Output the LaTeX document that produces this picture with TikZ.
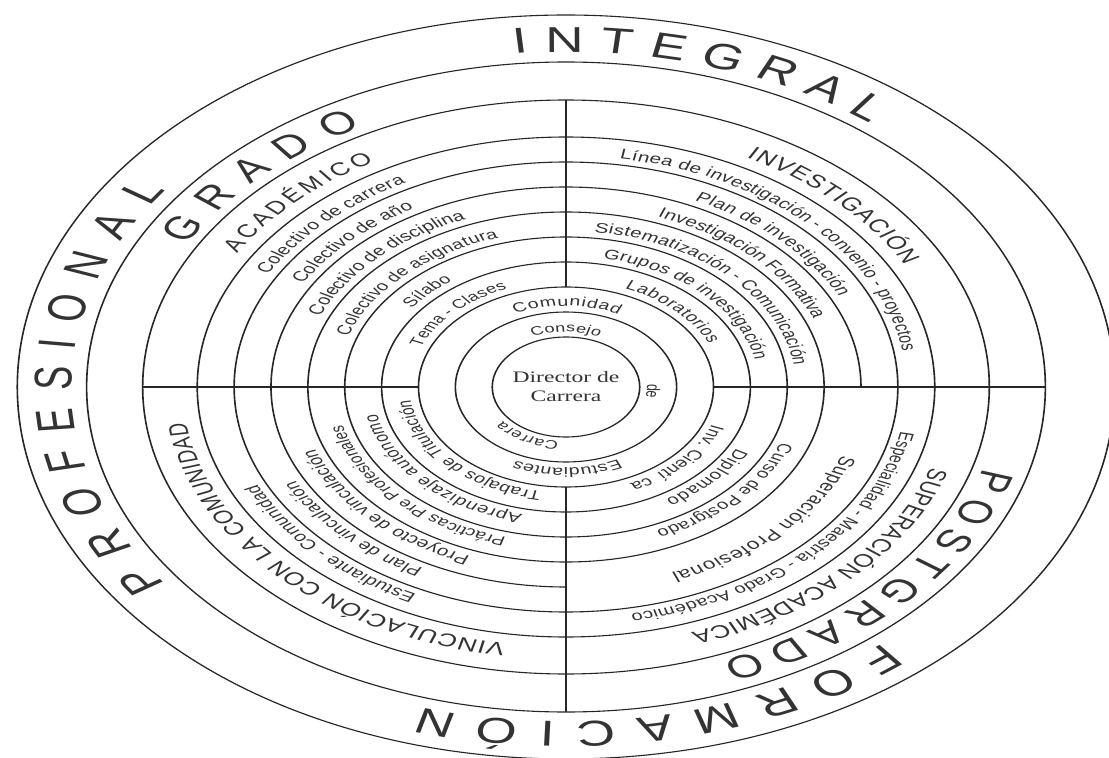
\documentclass[tikz,border=0pt]{standalone}
\usepackage{fontspec}
\setmainfont{Liberation Serif}
\setsansfont{Liberation Sans}
\usetikzlibrary{decorations.text}
\tikzset{
  ring/.style={draw=black!85, line width=1.1pt},
  axisline/.style={draw=black!85, line width=1.1pt},
}
\newcommand{\ringtext}[5]{%
  \path[decorate, decoration={text along path, text align={fit to path}, text color=black!80,
     text={|\sffamily\fontsize{#4}{#4}\selectfont|#5}}]
    (#1:#3) arc[start angle=#1, end angle=#2, radius=#3];
}
\begin{document}
\begin{tikzpicture}[x=1pt,y=1pt]
\fill[white] (-566,-371) rectangle (543,387);
\useasboundingbox (-566,-371) rectangle (543,387);
\begin{scope}[transform canvas={xscale=1.475}]
  % rings
  \foreach \r in {50,75,100,125,150,175,225,250,287,325,372}
    \draw[ring] (0,0) circle[radius=\r];
  \draw[ring] (0:200) arc[start angle=0, end angle=270, radius=200];
  % axes
  \coordinate (Lout) at (-287,0); \coordinate (Lin) at (-100,0);
  \coordinate (Rin) at (100,0);  \coordinate (Rout) at (325,0);
  \coordinate (Tin) at (0,100);  \coordinate (Tout) at (0,287);
  \coordinate (Bin) at (0,-100); \coordinate (Bout) at (0,-325);
  \draw[axisline] (Lout) -- (Lin);
  \draw[axisline] (Rin) -- (Rout);
  \draw[axisline] (Tin) -- (Tout);
  \draw[axisline] (Bin) -- (Bout);
  % centre
  \node[font=\fontsize{16}{19}\selectfont, align=center, text=black!80, inner sep=0pt] (dir) at (0,0) {Director de\\Carrera};
  % band 50-75
  \ringtext{114}{66}{55}{12.3}{Consejo}
  \ringtext{3}{-11}{55}{12.3}{de}
  \ringtext{-95}{-141}{55}{12.3}{Carrera}
  % band 75-100
  \ringtext{115}{64}{81}{13.3}{Comunidad}
  \ringtext{-64}{-115}{81}{13.3}{Estudiantes}
  % band 100-125
  \ringtext{158}{112}{106}{12.8}{Tema - Clases}
  \ringtext{68}{24}{106}{13.6}{Laboratorios}
  \ringtext{-21}{-66}{106}{13.6}{Inv. Cientí{\kern6pt}ca}
  \ringtext{261}{187}{106}{13.5}{Trabajos de Titulación}
  % band 125-150
  \ringtext{143}{126}{131}{13.4}{Sílabo}
  \ringtext{79}{12}{131}{13.8}{Grupos de investigación}
  \ringtext{-28}{-59}{131}{13.8}{Diplomado}
  \ringtext{257}{192}{131}{13.8}{Aprendizaje autónomo}
  % band 150-175
  \ringtext{161}{107}{156}{13.6}{Colectivo de asignatura}
  \ringtext{83}{8}{156}{13.9}{Sistematización - Comunicación}
  \ringtext{-21}{-67}{156}{13.6}{Curso de Postgrado}
  \ringtext{255}{194}{156}{13.2}{Prácticas Pre Profesionales}
  % band 175-200
  \ringtext{157}{112}{181}{14.2}{Colectivo de disciplina}
  \ringtext{70}{22}{181}{14.2}{Investigación Formativa}
  \ringtext{249}{200}{181}{14.2}{Proyecto de vinculación}
  \ringtext{-20}{-69}{199}{15.3}{Superación Profesional}
  % band 200-225
  \ringtext{150}{120}{206}{14.2}{Colectivo de año}
  \ringtext{65}{26}{206}{14.2}{Plan de investigación}
  \ringtext{242}{207}{206}{14}{Plan de vinculación}
  % band 225-250
  \ringtext{151}{118}{231}{14.2}{Colectivo de carrera}
  \ringtext{81}{9}{231}{14.1}{Línea de investigación - convenio - proyectos}
  \ringtext{-11}{-79}{231}{13.7}{Especialidad - Maestría - Grado Académico}
  \ringtext{244}{205}{231}{14.1}{Estudiante - Comunidad}
  % band 250-287
  \ringtext{149}{120}{260}{18.3}{ACADÉMICO}
  \ringtext{62}{28}{260}{18.3}{INVESTIGACIÓN}
  \ringtext{-18}{-71}{260}{18.2}{SUPERACIÓN ACADÉMICA}
  \ringtext{261}{188}{260}{18.2}{VINCULACIÓN CON LA COMUNIDAD}
  % band 287-325
  \ringtext{151}{118}{294}{32}{GRADO}
  \ringtext{-16}{-69}{294}{32}{POSTGRADO}
  % outer band
  \ringtext{96}{52}{335}{36}{INTEGRAL}
  \ringtext{-50}{-107}{335}{36}{FORMACIÓN}
  \ringtext{216}{144}{335}{36}{PROFESIONAL}
\end{scope}
\end{tikzpicture}
\end{document}
